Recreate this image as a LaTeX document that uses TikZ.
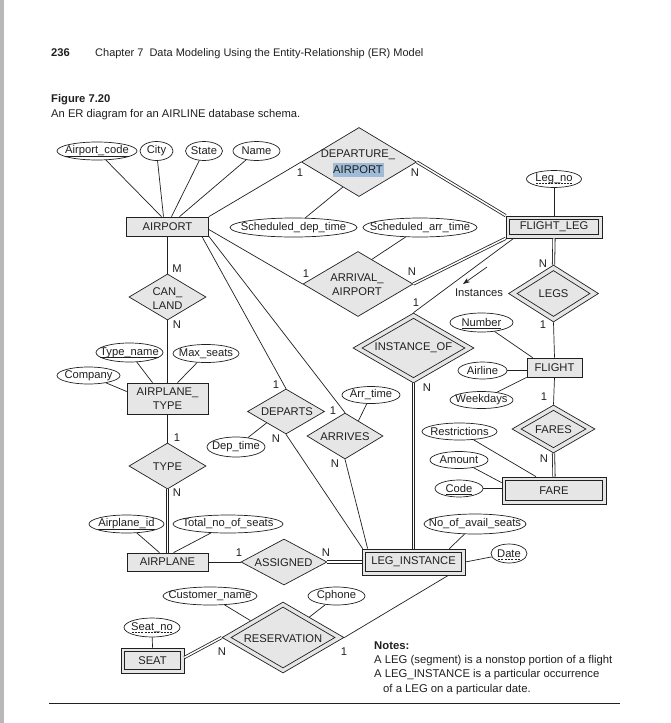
\documentclass[tikz,border=0pt]{standalone}
\usepackage{fontspec}
\setmainfont{Liberation Sans}
\usetikzlibrary{shapes.geometric,calc,arrows.meta}
\definecolor{erfill}{HTML}{E6E6E6}
\definecolor{erline}{HTML}{202020}
\definecolor{selblue}{HTML}{9EBBD7}
\definecolor{pagebar}{HTML}{B8B8B8}
% zero-width text, so that an ellipse is sized by its minimum width/height only
\newcommand{\erlab}[1]{\makebox[0pt]{#1}}
% solid underline of a key attribute
\newcommand{\erul}[1]{\setbox0=\hbox{#1}\rlap{\raisebox{-2.4pt}[0pt][0pt]{\vrule width \wd0 height 0.6pt depth 0pt}}\box0}
% dashed underline of a partial key
\newcommand{\erdul}[1]{\setbox0=\hbox{#1}\rlap{\raisebox{-2.4pt}[0pt][0pt]{\hbox to \wd0{\xleaders\hbox to 3pt{\hss\vrule width 2pt height 0.6pt depth 0pt\hss}\hfil}}}\box0}
\begin{document}
\begin{tikzpicture}[x=1pt,y=-1pt,
  every node/.style={font=\fontsize{11.2}{13.5}\selectfont, text=erline},
  entity/.style={rectangle, draw=erline, fill=erfill, line width=0.7pt, inner sep=0pt},
  rel/.style={diamond, draw=erline, fill=erfill, line width=0.7pt, inner sep=0pt},
  attr/.style={ellipse, draw=erline, fill=white, line width=0.7pt, inner sep=0pt},
  txt/.style={inner sep=0pt},
  heading/.style={txt, anchor=base west, font=\fontsize{11.2}{13}\selectfont},
  link/.style={draw=erline, line width=0.7pt},
  dlink/.style={draw=erline, line width=0.8pt, double=white, double distance=1.5pt},
]
\useasboundingbox (0,0) rectangle (670,723);
\fill[white] (0,0) rectangle (670,723);
\fill[pagebar] (0,0) rectangle (4,723);

% page heading and caption
\node[heading, font=\bfseries\fontsize{11.2}{13}\selectfont] (pgno) at (51,56) {236};
\node[heading, font=\fontsize{11}{13}\selectfont] (chap) at (95,56) {Chapter 7\hspace{0.55em}Data Modeling Using the Entity-Relationship (ER) Model};
\node[heading, font=\bfseries\fontsize{11.2}{13}\selectfont] (fig) at (51,102) {Figure 7.20};
\node[heading] (figcap) at (51,117) {An ER diagram for an AIRLINE database schema.};

% entity types
\node[entity, minimum width=82pt, minimum height=19pt] (airport) at (167.5,226.5) {AIRPORT};
\node[entity, minimum width=96pt, minimum height=22pt] (fl) at (554,227) {};
\node[entity, minimum width=89pt, minimum height=15pt] (fl-in) at (fl.center) {FLIGHT\_LEG};
\node[entity, minimum width=81pt, minimum height=31pt, align=center] (at) at (167.5,398.5) {AIRPLANE\_\\TYPE};
\node[entity, minimum width=55pt, minimum height=19pt] (flight) at (554.5,367.5) {FLIGHT};
\node[entity, minimum width=104pt, minimum height=27pt] (fare) at (554,490.5) {};
\node[entity, minimum width=97pt, minimum height=20pt] (fare-in) at (fare.center) {FARE};
\node[entity, minimum width=81pt, minimum height=18pt] (airplane) at (167.5,562) {AIRPLANE};
\node[entity, minimum width=103pt, minimum height=26pt] (leginst) at (413.5,562) {};
\node[entity, minimum width=96pt, minimum height=19pt] (leginst-in) at (leginst.center) {LEG\_INSTANCE};
\node[entity, minimum width=63pt, minimum height=25pt] (seat) at (152.5,660.5) {};
\node[entity, minimum width=56pt, minimum height=18pt] (seat-in) at (seat.center) {SEAT};

% relationship types
\node[rel, minimum width=115pt, minimum height=69pt] (depa) at (359,162) {};
\node[txt] (depa-t1) at (358,155) {DEPARTURE\_};
\node[txt, fill=selblue, minimum width=51pt, minimum height=14pt] (depa-t2) at (358,170) {AIRPORT};
\node[rel, minimum width=110pt, minimum height=65pt] (arra) at (358,284) {};
\node[txt, align=center] (arra-t) at (357,284.5) {ARRIVAL\_\\AIRPORT};
\node[rel, minimum width=77pt, minimum height=46pt] (canland) at (167.5,297) {};
\node[txt, align=center] (canland-t) at (167.5,298.5) {CAN\_\\LAND};
\node[rel, minimum width=121pt, minimum height=70pt] (instof) at (413.5,348) {};
\node[rel, minimum width=103pt, minimum height=59.6pt] (instof-in) at (instof.center) {};
\node[txt] (instof-t) at (413.5,348) {INSTANCE\_OF};
\node[rel, minimum width=90pt, minimum height=57pt] (legs) at (553.5,293.5) {};
\node[rel, minimum width=73pt, minimum height=46pt] (legs-in) at (legs.center) {};
\node[txt] (legs-t) at (553.5,294) {LEGS};
\node[rel, minimum width=83pt, minimum height=48pt] (fares) at (553.5,429) {};
\node[rel, minimum width=65pt, minimum height=37.6pt] (fares-in) at (fares.center) {};
\node[txt] (fares-t) at (553.5,430) {FARES};
\node[rel, minimum width=77pt, minimum height=45pt] (departs) at (286,411.5) {};
\node[txt] (departs-t) at (287,412) {DEPARTS};
\node[rel, minimum width=76pt, minimum height=46pt] (arrives) at (345,436) {};
\node[txt] (arrives-t) at (345,437) {ARRIVES};
\node[rel, minimum width=77pt, minimum height=46pt] (type) at (167.5,466) {};
\node[txt] (type-t) at (167.5,466.5) {TYPE};
\node[rel, minimum width=86pt, minimum height=46pt] (assigned) at (284,562) {};
\node[txt] (assigned-t) at (283.5,562.5) {ASSIGNED};
\node[rel, minimum width=122pt, minimum height=71pt] (res) at (283,637.5) {};
\node[rel, minimum width=104pt, minimum height=61pt] (res-in) at (res.center) {};
\node[txt] (res-t) at (283,639) {RESERVATION};

% attributes
\node[attr, minimum width=80pt, minimum height=18pt] (acode) at (97,151) {\erlab{\erul{Airport\_code}}};
\node[attr, minimum width=33pt, minimum height=19pt] (city) at (156.5,151) {\erlab{City}};
\node[attr, minimum width=37pt, minimum height=19pt] (state) at (204,151) {\erlab{State}};
\node[attr, minimum width=47pt, minimum height=19pt] (aname) at (256.5,151) {\erlab{Name}};
\node[attr, minimum width=127pt, minimum height=19pt] (sdt) at (293.5,227.5) {\erlab{Scheduled\_dep\_time}};
\node[attr, minimum width=114pt, minimum height=19pt] (sat) at (420,227.5) {\erlab{Scheduled\_arr\_time}};
\node[attr, minimum width=55pt, minimum height=17pt] (legno) at (554,179) {\erlab{\erdul{Leg\_no}}};
\node[attr, minimum width=67pt, minimum height=19pt] (tname) at (129.5,352.5) {\erlab{\erul{Type\_name}}};
\node[attr, minimum width=66pt, minimum height=18pt] (maxs) at (206,353.5) {\erlab{Max\_seats}};
\node[attr, minimum width=63pt, minimum height=17pt] (company) at (88.5,375.5) {\erlab{Company}};
\node[attr, minimum width=63pt, minimum height=19pt] (number) at (481.5,322.5) {\erlab{\erul{Number}}};
\node[attr, minimum width=49pt, minimum height=17pt] (airline) at (482.5,370.5) {\erlab{Airline}};
\node[attr, minimum width=63pt, minimum height=17pt] (weekdays) at (481.5,400) {\erlab{Weekdays}};
\node[attr, minimum width=58pt, minimum height=17pt] (arrtime) at (371,395) {\erlab{Arr\_time}};
\node[attr, minimum width=58pt, minimum height=20pt] (deptime) at (236,447) {\erlab{Dep\_time}};
\node[attr, minimum width=75pt, minimum height=17pt] (restr) at (459.5,431.5) {\erlab{Restrictions}};
\node[attr, minimum width=58pt, minimum height=17pt] (amount) at (459,460) {\erlab{Amount}};
\node[attr, minimum width=48pt, minimum height=17pt] (code) at (459,488.5) {\erlab{\erul{Code}}};
\node[attr, minimum width=75pt, minimum height=18pt] (apid) at (126.5,524) {\erlab{\erul{Airplane\_id}}};
\node[attr, minimum width=110pt, minimum height=18pt] (tseats) at (228,524) {\erlab{Total\_no\_of\_seats}};
\node[attr, minimum width=102pt, minimum height=20pt] (avail) at (475,524) {\erlab{No\_of\_avail\_seats}};
\node[attr, minimum width=36pt, minimum height=19pt] (date) at (509,553.5) {\erlab{\erdul{Date}}};
\node[attr, minimum width=94pt, minimum height=18pt] (cname) at (210,596) {\erlab{Customer\_name}};
\node[attr, minimum width=57pt, minimum height=18pt] (cphone) at (336.5,596) {\erlab{Cphone}};
\node[attr, minimum width=56pt, minimum height=19pt] (seatno) at (152,627.5) {\erlab{\erdul{Seat\_no}}};

% cardinality ratios
\node[txt] (k-depa-1) at (300,173) {1};
\node[txt] (k-depa-n) at (415,173) {N};
\node[txt] (k-arra-1) at (306,274) {1};
\node[txt] (k-arra-n) at (412,272) {N};
\node[txt] (k-inst-1) at (416,303) {1};
\node[txt] (k-inst-n) at (427,388) {N};
\node[txt] (k-legs-n) at (543,264) {N};
\node[txt] (k-legs-1) at (543,325) {1};
\node[txt] (k-fares-1) at (544,397) {1};
\node[txt] (k-fares-n) at (544,459) {N};
\node[txt] (k-can-m) at (177,269) {M};
\node[txt] (k-can-n) at (177,325) {N};
\node[txt] (k-type-1) at (177,438) {1};
\node[txt] (k-type-n) at (177,493) {N};
\node[txt] (k-dep-1) at (276,385) {1};
\node[txt] (k-dep-n) at (276,439) {N};
\node[txt] (k-arr-1) at (333,411) {1};
\node[txt] (k-arr-n) at (335,464) {N};
\node[txt] (k-asg-1) at (239,553) {1};
\node[txt] (k-asg-n) at (326,553) {N};
\node[txt] (k-res-n) at (222,652) {N};
\node[txt] (k-res-1) at (344,652) {1};

% AIRPORT and FLIGHT_LEG
\draw[link] (acode) -- ($(airport.north)+(-6,0)$);
\draw[link] (city) -- ($(airport.north)+(-4,0)$);
\draw[link] (state) -- ($(airport.north)+(4,0)$);
\draw[link] (aname) -- ($(airport.north)+(12,0)$);
\draw[link] (airport.north east) -- (depa.west);
\draw[dlink] (depa.east) -- (fl.north west);
\draw[link] (sdt) -- ($(depa.west)!0.72!(depa.south)$);
\draw[link] (sat) -- ($(arra.north)!0.25!(arra.east)$);
\draw[link] ($(airport.east)+(0,3)$) -- (arra.west);
\draw[dlink] (arra.east) -- (fl.south west);
\draw[link] (legno.south) -- (fl.north);
\draw[link] (instof.north) -- ($(fl.south west)+(8,0)$);
\draw[dlink] (fl.south) -- (legs.north);

% FLIGHT and FARE
\draw[link] (legs.south) -- (flight.north);
\draw[link] (number) -- ($(flight.north west)+(6,0)$);
\draw[link] (airline.east) -- (flight.west |- airline.east);
\draw[link] (weekdays) -- (flight.south west);
\draw[link] (flight.south) -- (fares.north);
\draw[dlink] (fares.south) -- (fare.north);
\draw[link] (restr) -- ($(fare.north)+(-18,0)$);
\draw[link] (amount) -- ($(fare.north west)+(0,6)$);
\draw[link] (code.east) -- (fare.west |- code.east);

% AIRPLANE_TYPE and AIRPLANE
\draw[link] (airport.south) -- (canland.north);
\draw[link] (canland.south) -- (at.north);
\draw[link] (tname) -- ($(at.north)+(-15,0)$);
\draw[link] (maxs) -- ($(at.north)+(10,0)$);
\draw[link] (company) -- ($(at.west)+(0,-7)$);
\draw[link] (at.south) -- (type.north);
\draw[dlink] (type.south) -- (airplane.north);
\draw[link] (apid) -- ($(airplane.north)+(-8,0)$);
\draw[link] (tseats) -- ($(airplane.north)+(6,0)$);
\draw[link] (airplane.east) -- (assigned.west);
\draw[dlink] (assigned.east) -- (leginst.west);

% LEG_INSTANCE
\coordinate (io-foot) at (instof.south);
\coordinate (li-head) at (leginst.north);
\draw[dlink] (io-foot) -- (li-head);
\draw[link] (avail) -- ($(leginst.north east)+(-16,0)$);
\draw[link] (date) -- (leginst.east);
\draw[link] ($(airport.south east)+(-7,0)$) -- (departs.north);
\draw[link] (airport.south east) -- (arrives.north);
\draw[link] (arrtime) -- ($(arrives.north)!0.35!(arrives.east)$);
\draw[link] (deptime) -- ($(departs.west)!0.5!(departs.south)$);
\draw[link] (departs.south) -- ($(leginst.north west)+(1,0)$);
\draw[link] (arrives.south) -- ($(leginst.north west)+(6,0)$);

% RESERVATION and SEAT
\draw[link] ($(leginst.south east)+(-17,0)$) -- (res.east);
\draw[link] (cname) -- ($(res.west)!0.47!(res.north)$);
\draw[link] (cphone) -- ($(res.north)!0.43!(res.east)$);
\draw[link] (seatno) -- (seat.north);
\draw[dlink] ($(seat.east)+(0,-3)$) -- (res.west);

% direction of the "Instances" reading
\coordinate (ia) at (487,267);
\coordinate (ib) at (463,284);
\draw[link, -{Stealth[length=7pt,width=5pt]}] (ia) -- (ib);
\node[txt] (inst) at (479,293) {Instances};

% notes
\node[heading, font=\bfseries\fontsize{11.3}{13}\selectfont] (notes) at (374,649) {Notes:};
\node[heading, font=\fontsize{11.3}{13}\selectfont] (note1) at (374,663) {A LEG (segment) is a nonstop portion of a flight};
\node[heading, font=\fontsize{11.3}{13}\selectfont] (note2) at (374,677) {A LEG\_INSTANCE is a particular occurrence};
\node[heading, font=\fontsize{11.3}{13}\selectfont] (note3) at (383,692) {of a LEG on a particular date.};

% rule under the figure
\coordinate (rl) at (49,703);
\coordinate (rr) at (620,703);
\draw[erline, line width=0.9pt] (rl) -- (rr);
\end{tikzpicture}
\end{document}
